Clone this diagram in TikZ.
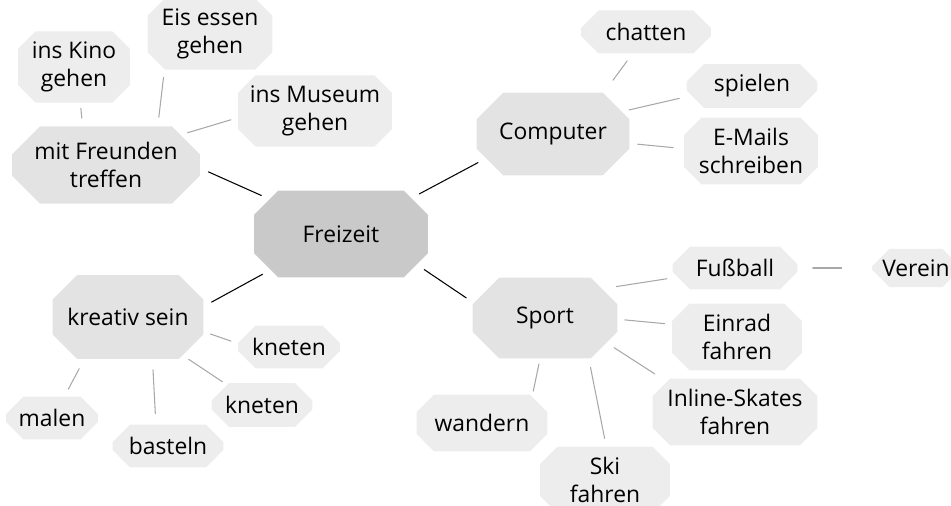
\documentclass[tikz,border=0pt]{standalone}
\usepackage{fontspec}
\setmainfont{Open Sans}
\usepackage{tikz}
\usetikzlibrary{shapes.misc}
\definecolor{hub}{HTML}{C9C9C9}
\definecolor{branch}{HTML}{E3E3E3}
\definecolor{leaf}{HTML}{EDEDED}
\definecolor{twig}{HTML}{A8A8A8}

\begin{document}
\begin{tikzpicture}[x=0.02cm,y=-0.02cm,line cap=round,font=\fontsize{13}{16}\selectfont,
  blob/.style={chamfered rectangle,chamfered rectangle xsep=5pt,chamfered rectangle ysep=5pt,
    inner sep=1pt,align=center,fill=#1},
  bigblob/.style={blob=#1,chamfered rectangle xsep=8pt,chamfered rectangle ysep=8pt},
  mainline/.style={black,line width=0.6pt,shorten <=5pt,shorten >=5pt},
  subline/.style={twig,line width=0.6pt,shorten <=4pt,shorten >=4pt}]
\useasboundingbox (0,0) rectangle (951,506);
% centre
\node[bigblob=hub,minimum width=3.48cm,minimum height=1.74cm] (freizeit) at (341,234) {Freizeit};
% branches
\node[bigblob=branch,minimum width=3.76cm,minimum height=1.52cm] (freunde) at (106,165) {mit Freunden\\treffen};
\node[bigblob=branch,minimum width=3.06cm,minimum height=1.66cm] (computer) at (553,134) {Computer};
\node[bigblob=branch,minimum width=3.02cm,minimum height=1.68cm] (kreativ) at (128,317) {kreativ sein};
\node[bigblob=branch,minimum width=2.9cm,minimum height=1.62cm] (sport) at (545,318) {Sport};
% leaves
\node[blob=leaf,minimum width=2.24cm,minimum height=1.22cm] (kino) at (74,67) {ins Kino\\gehen};
\node[blob=leaf,minimum width=2.5cm,minimum height=1.3cm] (eis) at (210,34) {Eis essen\\gehen};
\node[blob=leaf,minimum width=3.08cm,minimum height=1.16cm] (museum) at (315,111) {ins Museum\\gehen};
\node[blob=leaf,minimum width=2.6cm,minimum height=0.86cm] (chatten) at (646,32) {chatten};
\node[blob=leaf,minimum width=2.62cm,minimum height=0.84cm] (spielen) at (752,86) {spielen};
\node[blob=leaf,minimum width=2.68cm,minimum height=1.06cm] (mails) at (751,151) {E-Mails\\schreiben};
\node[blob=leaf,minimum width=2.04cm,minimum height=0.86cm] (kneten1) at (289,347) {kneten};
\node[blob=leaf,minimum width=2.02cm,minimum height=0.88cm] (kneten2) at (262,405) {kneten};
\node[blob=leaf,minimum width=2.22cm,minimum height=0.86cm] (basteln) at (168,446) {basteln};
\node[blob=leaf,minimum width=1.84cm,minimum height=0.86cm] (malen) at (52,418) {malen};
\node[blob=leaf,minimum width=2.5cm,minimum height=0.86cm] (fussball) at (735,268) {Fußball};
\node[blob=leaf,minimum width=1.56cm,minimum height=0.74cm] (verein) at (916,268) {Verein};
\node[blob=leaf,minimum width=2.6cm,minimum height=1.14cm] (einrad) at (737,337) {Einrad\\fahren};
\node[blob=leaf,minimum width=3.3cm,minimum height=1.26cm] (inline) at (735,412) {Inline-Skates\\fahren};
\node[blob=leaf,minimum width=2.62cm,minimum height=1.14cm] (wandern) at (482,423) {wandern};
\node[blob=leaf,minimum width=2.6cm,minimum height=1.14cm] (ski) at (605,480) {Ski\\fahren};
% connectors from the centre
\draw[mainline] (freizeit.154) -- (freunde.358);
\draw[mainline] (freizeit.27) -- (computer.200);
\draw[mainline] (freizeit.207) -- (kreativ.8);
\draw[mainline] (freizeit.338) -- (sport.168);
% connectors to the leaves
\draw[subline,shorten <=4.5pt,shorten >=3pt] (freunde.121) -- (kino.280);
\draw[subline,shorten <=5pt,shorten >=4.5pt] (freunde.37) -- (eis.218);
\draw[subline] (freunde.22) -- (museum.185);
\draw[subline,shorten <=9pt,shorten >=5pt] (computer.39) -- (chatten.238);
\draw[subline,shorten >=7pt] (computer.18) -- (spielen.189);
\draw[subline,shorten <=4.5pt,shorten >=6pt] (computer.353) -- (mails.178);
\draw[subline] (kreativ.349) -- (kneten1.176);
\draw[subline,shorten >=3pt] (kreativ.325) -- (kneten2.150);
\draw[subline,shorten <=6pt,shorten >=6pt] (kreativ.300) -- (basteln.119);
\draw[subline,shorten <=6pt,shorten >=4.5pt] (kreativ.224) -- (malen.60);
\draw[subline,shorten <=8pt,shorten >=6pt] (sport.27) -- (fussball.189);
\draw[subline,shorten <=8.5pt,shorten >=17pt] (fussball.east) -- (verein.west);
\draw[subline] (sport.359) -- (einrad.169);
\draw[subline,shorten <=5pt,shorten >=8pt] (sport.338) -- (inline.156);
\draw[subline,shorten <=3pt,shorten >=3pt] (sport.263) -- (wandern.28);
\draw[subline,shorten <=5pt,shorten >=4.5pt] (sport.317) -- (ski.88);
\end{tikzpicture}
\end{document}
